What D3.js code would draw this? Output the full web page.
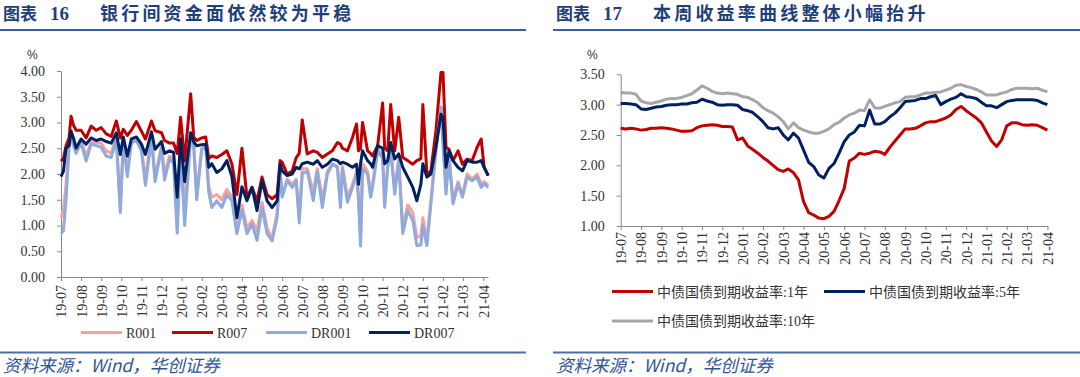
<!DOCTYPE html>
<html>
<head>
<meta charset="utf-8">
<script src="https://cdn.jsdelivr.net/npm/d3@7"></script>
<style>
  body { margin: 0; background: #fff; }
  svg { display: block; }
</style>
</head>
<body>
<svg id="chart" width="1080" height="377"></svg>
<script>
// x positions are months counted from 2019-07
const monthLabels = ["19-07","19-08","19-09","19-10","19-11","19-12","20-01","20-02","20-03","20-04","20-05",
  "20-06","20-07","20-08","20-09","20-10","20-11","20-12","21-01","21-02","21-03","21-04"];

const rateTicks = [0, 0.5, 1, 1.5, 2, 2.5, 3, 3.5, 4];
const yieldTicks = [1, 1.5, 2, 2.5, 3, 3.5];

// chart 16: interbank repo rates
const rateT = [0,0.12,0.25,0.4,0.5,0.62,0.75,1,1.25,1.5,
  1.75,2,2.25,2.5,2.75,2.95,3.1,3.3,3.5,3.75,
  4,4.2,4.5,4.68,5,5.15,5.4,5.6,5.78,5.95,
  6.15,6.45,6.6,6.75,7,7.2,7.35,7.5,7.75,8,
  8.25,8.5,8.75,9,9.25,9.5,9.75,10,10.25,10.5,
  10.75,10.9,11,11.25,11.5,11.7,11.85,12,12.25,12.55,
  12.75,13,13.25,13.5,13.75,13.9,14,14.25,14.5,14.7,
  14.8,14.9,15,15.25,15.4,15.5,15.75,16,16.1,16.25,
  16.4,16.6,16.8,17,17.25,17.5,17.7,17.9,18,18.2,
  18.4,18.65,18.9,19,19.15,19.3,19.5,19.75,19.97,20.2,
  20.45,20.7,20.9,21.05,21.25];
const r001 = [1.15,1.3,1.8,2.6,2.85,2.65,2.45,2.65,2.35,2.62,
  2.6,2.6,2.45,2.4,2.72,1.35,2.65,2.05,2.65,2.7,
  2.5,1.9,2.75,1.95,2.55,2.0,2.35,2.25,1.0,2.7,
  1.3,2.75,2.6,1.6,2.5,2.55,1.75,1.55,1.6,1.5,
  1.7,1.55,0.9,1.4,0.95,1.1,0.9,1.45,0.95,0.75,
  1.25,2.1,1.6,1.9,1.8,1.9,1.15,2.1,2.1,1.65,
  2.1,1.5,2.05,2.2,2.15,1.45,2.15,1.55,1.8,2.05,
  1.6,0.75,2.2,2.05,1.65,1.8,2.5,2.35,1.45,2.15,
  2.5,1.7,2.3,0.95,1.4,1.25,0.77,0.8,1.15,0.7,
  1.5,2.5,3.3,2.65,1.7,2.35,1.5,1.85,1.6,2.0,
  1.9,2.0,1.8,1.85,1.78];
const r007 = [2.25,2.3,2.55,2.7,3.12,2.95,2.85,2.85,2.7,2.93,
  2.85,2.9,2.78,2.73,3.03,2.7,2.87,2.75,2.85,3.02,
  2.83,2.68,3.03,2.84,2.8,2.65,2.6,2.6,2.4,3.1,
  2.25,3.56,2.72,2.65,2.7,2.72,2.3,2.35,2.32,2.38,
  2.45,2.2,1.6,2.5,1.55,1.74,1.48,1.94,1.6,1.52,
  1.6,2.26,2.23,2.0,2.06,2.32,2.4,3.05,2.39,2.45,
  2.42,2.32,2.39,2.45,2.61,2.58,2.5,2.45,2.71,2.97,
  2.45,2.5,3.0,2.45,2.4,2.35,2.55,3.38,2.5,2.45,
  3.35,2.45,3.1,2.32,2.26,2.19,2.26,2.3,3.35,2.0,
  2.06,2.84,3.97,3.97,2.52,2.48,2.26,2.45,2.19,2.29,
  2.26,2.52,2.68,2.13,1.97];
const dr001 = [0.85,0.9,1.5,2.5,2.75,2.55,2.4,2.6,2.25,2.58,
  2.55,2.52,2.35,2.32,2.68,1.25,2.6,1.95,2.6,2.65,
  2.45,1.78,2.7,1.85,2.5,1.88,2.3,2.2,0.85,2.5,
  1.0,2.7,2.55,1.5,2.48,2.5,1.65,1.35,1.48,1.35,
  1.6,1.48,0.84,1.3,0.84,1.03,0.71,1.35,0.84,0.7,
  1.15,2.05,1.55,1.87,1.74,1.87,1.05,2.0,2.06,1.48,
  2.05,1.35,2.0,2.19,2.13,1.35,2.1,1.45,1.74,2.0,
  1.5,0.6,2.1,2.0,1.55,1.74,2.45,2.3,1.35,2.13,
  2.45,1.61,2.26,0.84,1.29,1.1,0.61,0.62,1.0,0.61,
  1.42,2.45,3.3,2.58,1.61,2.32,1.42,1.81,1.55,1.94,
  1.87,1.94,1.74,1.81,1.74];
const dr007 = [1.95,2.05,2.5,2.55,2.83,2.7,2.5,2.68,2.58,2.7,
  2.65,2.68,2.63,2.6,2.8,2.38,2.72,2.35,2.68,2.72,
  2.58,2.38,2.82,2.48,2.63,2.4,2.45,2.42,1.55,2.68,
  1.85,2.8,2.62,2.55,2.57,2.58,2.13,2.2,2.03,2.1,
  2.26,1.95,1.15,1.75,1.48,1.74,1.29,1.87,1.48,1.35,
  1.48,2.19,2.06,1.97,2.0,2.13,2.1,2.2,2.23,2.19,
  2.26,2.13,2.19,2.29,2.26,2.2,2.23,2.19,2.13,2.19,
  1.8,2.2,2.45,2.26,2.2,2.13,2.55,2.5,2.2,2.26,
  2.61,2.29,2.39,2.13,1.94,1.74,1.48,1.8,2.2,1.94,
  2.0,2.52,3.16,3.1,2.13,2.45,2.26,2.13,2.06,2.26,
  2.23,2.23,2.26,2.13,1.97];

// chart 17: government bond yields, one reading per quarter month
const yieldT = d3.range(0, 21.001, 0.25);
const y1 = [2.61,2.60,2.61,2.60, 2.58,2.59,2.61,2.61, 2.62,2.61,2.60,2.58, 2.56,2.56,2.57,2.62,
  2.65,2.66,2.67,2.66, 2.64,2.64,2.63,2.42, 2.45,2.32,2.26,2.20, 2.13,2.07,2.00,1.93,
  1.90,1.94,1.88,1.76, 1.40,1.22,1.18,1.13, 1.12,1.16,1.24,1.42, 1.62,2.07,2.12,2.20,
  2.18,2.20,2.23,2.22, 2.18,2.30,2.40,2.50, 2.60,2.60,2.61,2.65, 2.70,2.72,2.72,2.75,
  2.78,2.83,2.92,2.97, 2.90,2.84,2.78,2.70, 2.55,2.40,2.31,2.42, 2.65,2.70,2.70,2.67,
  2.66,2.67,2.66,2.62, 2.58];
const y5 = [3.02,3.02,3.01,3.00, 2.93,2.92,2.94,2.96, 2.97,2.99,3.00,3.00, 3.01,3.01,3.03,3.04,
  3.09,3.06,3.04,3.00, 2.99,3.00,3.00,2.99, 2.92,2.90,2.87,2.80, 2.72,2.62,2.60,2.62,
  2.50,2.42,2.53,2.45, 2.25,2.05,1.98,1.84, 1.79,1.95,2.03,2.20, 2.39,2.50,2.55,2.66,
  2.65,2.91,2.68,2.68, 2.72,2.80,2.86,2.95, 3.05,3.06,3.07,3.10, 3.10,3.13,3.15,3.00,
  3.05,3.09,3.12,3.18, 3.13,3.12,3.10,3.04, 2.98,2.98,2.95,3.00, 3.05,3.07,3.08,3.08,
  3.08,3.08,3.07,3.03, 3.00];
const y10 = [3.20,3.19,3.19,3.17, 3.06,3.03,3.02,3.04, 3.06,3.09,3.10,3.10, 3.12,3.15,3.18,3.24,
  3.31,3.27,3.22,3.19, 3.18,3.19,3.18,3.17, 3.13,3.12,3.08,3.03, 2.95,2.90,2.86,2.80,
  2.72,2.60,2.70,2.62, 2.58,2.55,2.53,2.53, 2.56,2.60,2.67,2.71, 2.78,2.83,2.86,2.91,
  2.90,3.08,2.95,2.94, 2.97,3.00,3.03,3.05, 3.12,3.13,3.13,3.16, 3.19,3.19,3.20,3.21,
  3.24,3.27,3.32,3.33, 3.30,3.28,3.25,3.21, 3.16,3.16,3.16,3.19, 3.21,3.25,3.27,3.27,
  3.27,3.26,3.27,3.24, 3.21];

const svg = d3.select("#chart");
const serif = "'Liberation Serif','Times New Roman','Noto Sans CJK SC',serif";
const cjk = "'Noto Sans CJK SC',sans-serif";

function header(x0, x1, num, title) {
  svg.append("text").attr("x", x0).attr("y", 20)
    .attr("font-family", cjk).attr("font-size", 17).attr("font-weight", "bold")
    .attr("fill", "#1f3f7a").text("图表");
  svg.append("text").attr("x", x0 + 47).attr("y", 20)
    .attr("font-family", serif).attr("font-size", 19).attr("font-weight", "bold")
    .attr("fill", "#1f3f7a").text(num);
  svg.append("text").attr("x", x0 + 97).attr("y", 20)
    .attr("font-family", cjk).attr("font-size", 18).attr("font-weight", "bold")
    .attr("letter-spacing", "3.2px").attr("fill", "#1f3f7a").text(title);
  svg.append("line").attr("x1", x0 - 3).attr("x2", x1).attr("y1", 30).attr("y2", 30)
    .attr("stroke", "#3a5f9e").attr("stroke-width", 2);
  svg.append("line").attr("x1", x0 - 3).attr("x2", x1).attr("y1", 352.5).attr("y2", 352.5)
    .attr("stroke", "#4a6ea8").attr("stroke-width", 2);
  svg.append("text").attr("x", x0).attr("y", 372)
    .attr("font-family", cjk).attr("font-size", 17.5).attr("font-style", "italic")
    .attr("fill", "#2f5597").text("资料来源：Wind，华创证券");
}

function panel(cfg) {
  const x = d3.scaleLinear().domain(cfg.xDomain).range(cfg.xRange);
  const y = d3.scaleLinear().domain(cfg.yDomain).range(cfg.yRange);
  const g = svg.append("g");

  const ya = g.append("g").attr("transform", `translate(${cfg.xRange[0]},0)`)
    .call(d3.axisLeft(y).tickValues(cfg.yTicks).tickFormat(d3.format(".2f"))
      .tickSize(4).tickSizeOuter(0).tickPadding(12));
  const xa = g.append("g").attr("transform", `translate(0,${cfg.yRange[0]})`)
    .call(d3.axisBottom(x).tickValues(d3.range(monthLabels.length))
      .tickFormat(i => monthLabels[i]).tickSize(4).tickSizeOuter(0));
  xa.selectAll("text")
    .attr("transform", "rotate(-90)")
    .attr("x", -cfg.labelGap).attr("y", 0).attr("dy", "0.35em")
    .attr("text-anchor", "end");

  [ya, xa].forEach(a => {
    a.select(".domain").attr("stroke", "#868686");
    a.selectAll(".tick line").attr("stroke", "#868686");
    a.selectAll("text").attr("fill", "#333").attr("font-family", serif).attr("font-size", 14);
  });

  g.append("text").attr("x", cfg.pctX).attr("y", 59)
    .attr("font-family", "'Liberation Sans',Arial,sans-serif").attr("font-size", 12)
    .attr("fill", "#333").text("%");

  cfg.series.forEach(s => {
    const line = d3.line().x((d, i) => x(cfg.t[i])).y(d => y(d));
    g.append("path").datum(s.values)
      .attr("fill", "none").attr("stroke", s.color).attr("stroke-width", 3)
      .attr("stroke-linejoin", "round").attr("d", line);
  });

  cfg.series.forEach(s => {
    g.append("line").attr("x1", s.lx).attr("x2", s.lx + 41).attr("y1", s.ly).attr("y2", s.ly)
      .attr("stroke", s.color).attr("stroke-width", 3);
    g.append("text").attr("x", s.lx + 45).attr("y", s.ly).attr("dy", "0.36em")
      .attr("font-family", serif).attr("font-size", 14).attr("fill", "#333").text(s.name);
  });
}

header(3, 526, "16", "银行间资金面依然较为平稳");
panel({
  xDomain: [0, 21.24], xRange: [61, 488],
  yDomain: [0, 4], yRange: [277, 71], yTicks: rateTicks,
  labelGap: 8, pctX: 27, t: rateT,
  series: [
    { name: "R001", values: r001, color: "#f7a09d", lx: 81, ly: 332.5 },
    { name: "R007", values: r007, color: "#c00000", lx: 172, ly: 332.5 },
    { name: "DR001", values: dr001, color: "#8faadc", lx: 266, ly: 332.5 },
    { name: "DR007", values: dr007, color: "#002060", lx: 369, ly: 332.5 }
  ]
});

header(556, 1080, "17", "本周收益率曲线整体小幅抬升");
panel({
  xDomain: [0, 21.03], xRange: [620.7, 1048],
  yDomain: [1, 3.5], yRange: [226, 74.3], yTicks: yieldTicks,
  labelGap: 6, pctX: 587, t: yieldT,
  series: [
    { name: "中债国债到期收益率:1年", values: y1, color: "#c00000", lx: 612, ly: 291.5 },
    { name: "中债国债到期收益率:5年", values: y5, color: "#002060", lx: 824, ly: 291.5 },
    { name: "中债国债到期收益率:10年", values: y10, color: "#a6a6a6", lx: 612, ly: 321 }
  ]
});
</script>
</body>
</html>
